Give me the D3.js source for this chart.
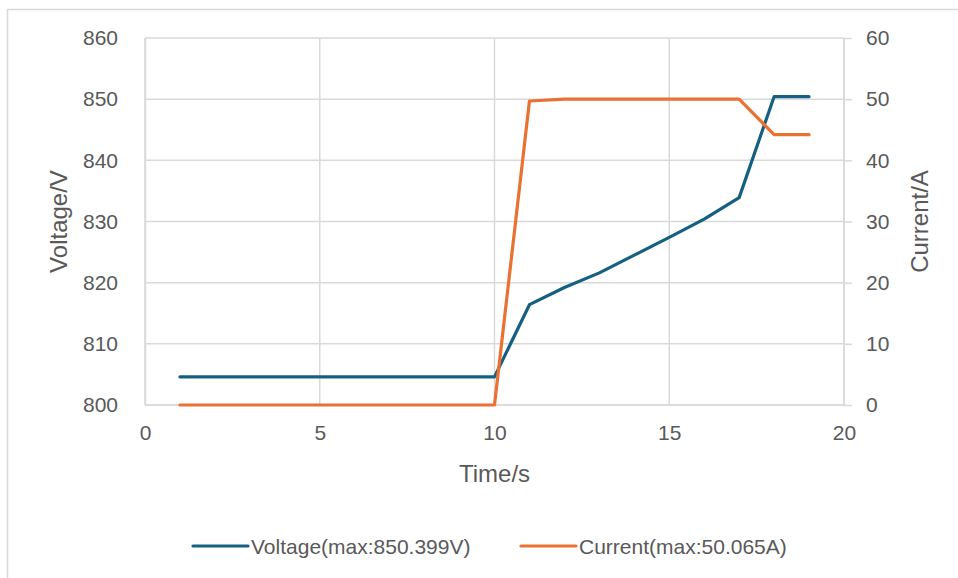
<!DOCTYPE html>
<html><head><meta charset="utf-8">
<script src="https://cdn.jsdelivr.net/npm/d3@7"></script>
<style>
body{margin:0;background:#fff;}
text{font-family:"Liberation Sans",Arial,sans-serif;fill:#595959;}
</style></head>
<body><svg id="c" width="958" height="578"></svg>
<script>
const time = [1,2,3,4,5,6,7,8,9,10,11,12,13,14,15,16,17,18,19];
const voltage = [804.6,804.6,804.6,804.6,804.6,804.6,804.6,804.6,804.6,804.6,816.4,819.2,821.6,824.5,827.4,830.4,833.9,850.4,850.4];
const current = [0,0,0,0,0,0,0,0,0,0,49.7,50.0,50.0,50.0,50.0,50.0,50.0,44.2,44.2];
const xTicks = [0,5,10,15,20];
const vTicks = [800,810,820,830,840,850,860];
const cTicks = [0,10,20,30,40,50,60];
const seriesNames = ["Voltage(max:850.399V)","Current(max:50.065A)"];
const colors = ["#156082","#E97132"];

const svg = d3.select("#c");
const L=145, R=844, T=38, B=405;
const x = d3.scaleLinear().domain([0,20]).range([L,R]);
const yV = d3.scaleLinear().domain([800,860]).range([B,T]);
const yC = d3.scaleLinear().domain([0,60]).range([B,T]);
const grid="#d9d9d9";

// outer border
svg.append("path").attr("d","M7.5,578 L7.5,9.5 L958,9.5").attr("fill","none").attr("stroke","#d9d9d9").attr("stroke-width",1.5);

// gridlines
svg.append("g").selectAll("line").data(vTicks).join("line")
 .attr("x1",L).attr("x2",R).attr("y1",d=>yV(d)).attr("y2",d=>yV(d)).attr("stroke",grid).attr("stroke-width",1.5);
svg.append("g").selectAll("line").data(xTicks).join("line")
 .attr("x1",d=>x(d)).attr("x2",d=>x(d)).attr("y1",T).attr("y2",B).attr("stroke",grid).attr("stroke-width",1.5);

// left axis
const gL = svg.append("g").attr("transform",`translate(${L},0)`)
 .call(d3.axisLeft(yV).tickValues(vTicks).tickSize(0).tickPadding(27));
gL.select(".domain").attr("stroke",grid).attr("stroke-width",1.5);

// right axis
const gR = svg.append("g").attr("transform",`translate(${R},0)`)
 .call(d3.axisRight(yC).tickValues(cTicks).tickSize(8).tickPadding(14));
gR.select(".domain").attr("stroke",grid).attr("stroke-width",1.5).attr("d",`M0,${T}V${B}`);
gR.selectAll(".tick line").attr("stroke",grid).attr("stroke-width",1.5);

// bottom axis
const gB = svg.append("g").attr("transform",`translate(0,${B})`)
 .call(d3.axisBottom(x).tickValues(xTicks).tickSize(0).tickPadding(20));
gB.select(".domain").attr("stroke",grid).attr("stroke-width",1.5).attr("d",`M${L},0H${R}`);

svg.selectAll("g[font-family]").attr("font-family",null).attr("font-size",null);
svg.selectAll(".tick text").attr("font-size",21).attr("fill","#595959");

// titles
svg.append("text").attr("x",(L+R)/2).attr("y",482).attr("text-anchor","middle").attr("font-size",24).text("Time/s");
svg.append("text").attr("transform",`translate(67,${(T+B)/2}) rotate(-90)`).attr("text-anchor","middle").attr("font-size",24).text("Voltage/V");
svg.append("text").attr("transform",`translate(928,${(T+B)/2}) rotate(-90)`).attr("text-anchor","middle").attr("font-size",24).text("Current/A");

// lines
const lineV = d3.line().x((d,i)=>x(time[i])).y(d=>yV(d));
const lineC = d3.line().x((d,i)=>x(time[i])).y(d=>yC(d));
svg.append("path").datum(voltage).attr("d",lineV).attr("fill","none").attr("stroke",colors[0]).attr("stroke-width",3.2).attr("stroke-linecap","round").attr("stroke-linejoin","round");
svg.append("path").datum(current).attr("d",lineC).attr("fill","none").attr("stroke",colors[1]).attr("stroke-width",3.2).attr("stroke-linecap","round").attr("stroke-linejoin","round");

// legend
const legX = [193,521];
const lg = svg.append("g").selectAll("g").data(seriesNames).join("g").attr("transform",(d,i)=>`translate(${legX[i]},546)`);
lg.append("line").attr("x1",0).attr("x2",55).attr("stroke",(d,i)=>colors[i]).attr("stroke-width",3.2).attr("stroke-linecap","round");
lg.append("text").attr("x",58).attr("y",7.5).attr("font-size",21).text(d=>d);
</script></body></html>
